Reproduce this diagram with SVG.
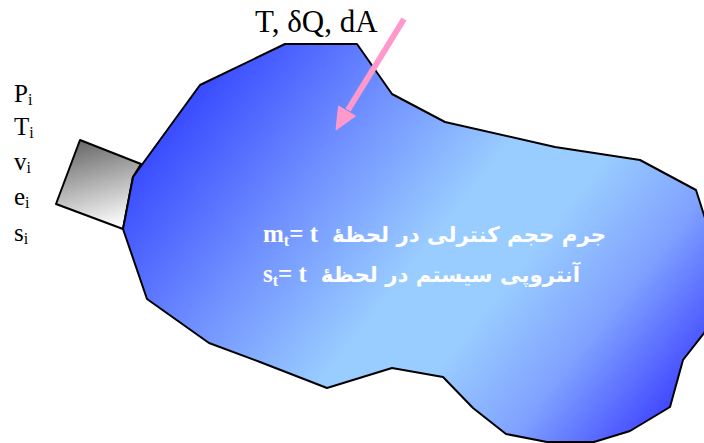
<svg xmlns="http://www.w3.org/2000/svg" width="704" height="443" viewBox="0 0 704 443">
<defs>
<linearGradient id="blue" gradientUnits="userSpaceOnUse" x1="200" y1="60" x2="680" y2="440">
<stop offset="0" stop-color="#3344ff"/>
<stop offset="0.26" stop-color="#6f8fff"/>
<stop offset="0.48" stop-color="#99ccff"/>
<stop offset="0.62" stop-color="#99ccff"/>
<stop offset="0.78" stop-color="#80a2ff"/>
<stop offset="1" stop-color="#3030ff"/>
</linearGradient>
<linearGradient id="grey" gradientUnits="userSpaceOnUse" x1="88" y1="140" x2="112" y2="228">
<stop offset="0" stop-color="#6a6a6a"/>
<stop offset="1" stop-color="#ffffff"/>
</linearGradient>
<style>
.sh{stroke:#000;stroke-width:2;stroke-linejoin:round}
.lbl{font-family:"Liberation Serif","Times New Roman",serif;fill:#000}
.wt{fill:#fff;font-weight:bold}
.lat{font-family:"Liberation Serif","Times New Roman",serif}
.fa{font-family:"DejaVu Sans",sans-serif}
.pink{fill:#ff99cc;stroke:#ff99cc}
</style>
</defs>
<g id="pipe">
<polygon class="sh" fill="url(#grey)" points="80,140 141,164 133,177 123,229 56,204"/>
</g>
<g id="control-volume">
<polygon class="sh" fill="url(#blue)" points="133,177 200,85 285,44 357,44 392,94 445,122 555,147 640,160 696,190 712,240 712,320 704,333 683,360 670,407 630,431 594,442 547,442 506,434 473,408 443,377 392,368 327,388 260,362 209,343 147,299 123,229"/>
<text class="wt fa" x="606" y="242" font-size="21.3" direction="rtl" text-anchor="start">جرم حجم کنترلی در لحظهٔ</text>
<text class="wt lat" x="263" y="242" font-size="25">m<tspan font-size="16" dy="4">t</tspan><tspan dy="-4">= t</tspan></text>
<text class="wt fa" x="580" y="282" font-size="21.3" direction="rtl" text-anchor="start">آنتروپی سیستم در لحظهٔ</text>
<text class="wt lat" x="263" y="282" font-size="25">s<tspan font-size="16" dy="4">t</tspan><tspan dy="-4">= t</tspan></text>
</g>
<g id="inlet-labels" class="lbl" font-size="25">
<text x="14" y="102">P<tspan font-size="16" dy="3">i</tspan></text>
<text x="14" y="135">T<tspan font-size="16" dy="3">i</tspan></text>
<text x="14" y="170">v<tspan font-size="16" dy="3">i</tspan></text>
<text x="14" y="205">e<tspan font-size="16" dy="3">i</tspan></text>
<text x="14" y="241">s<tspan font-size="16" dy="3">i</tspan></text>
</g>
<g id="heat-label">
<text class="lbl" x="255" y="32" font-size="31">T, δQ, dA</text>
</g>
<g id="connectors">
<line x1="404" y1="19" x2="348" y2="110" stroke="#ff99cc" stroke-width="6"/>
<polygon class="pink" stroke-width="1" stroke-linejoin="miter" points="336,130 338.5,106 355.5,116"/>
</g>
</svg>
